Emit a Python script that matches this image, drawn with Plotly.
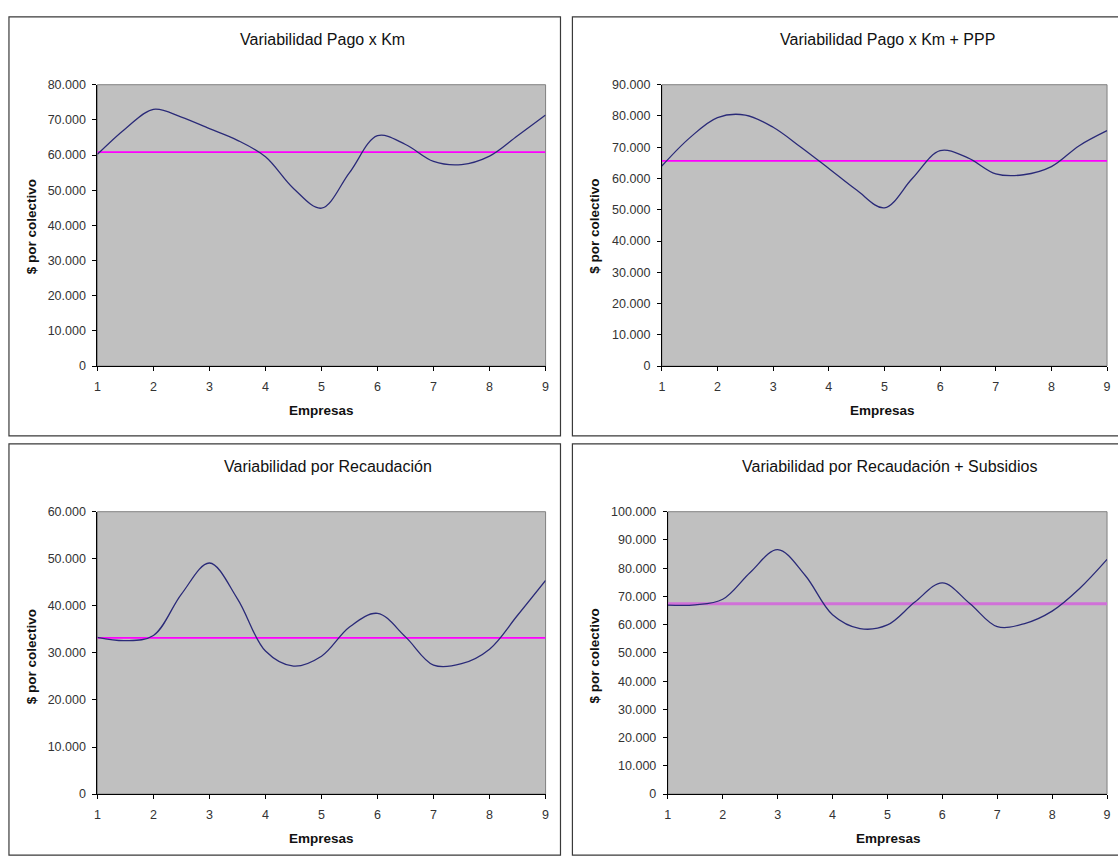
import plotly.graph_objects as go

W, H = 1118, 867

# ---------------- data ----------------
x_vals = [1, 1.5, 2, 2.5, 3, 3.5, 4, 4.5, 5, 5.5, 6, 6.5, 7, 7.5, 8, 8.5, 9]
x_ticks = [1, 2, 3, 4, 5, 6, 7, 8, 9]

pago_km = [60200, 67500, 73000, 70800, 67500, 64200, 59500, 50500, 44900,
           55000, 65500, 63000, 58200, 57300, 59700, 65500, 71400]
pago_km_mean = 60850

pago_km_ppp = [64000, 73000, 79500, 80300, 76400, 70000, 63200, 56300, 50600,
               60000, 68900, 66600, 61500, 61200, 63800, 70500, 75300]
pago_km_ppp_mean = 65650

recaudacion = [33300, 32600, 33700, 42500, 49100, 41500, 30400, 27200, 29300,
               35500, 38400, 33400, 27400, 27700, 30800, 38000, 45400]
recaudacion_mean = 33200

recaud_subs = [66900, 67000, 69000, 78500, 86600, 77500, 63500, 58600, 59900,
               68000, 74800, 67500, 59300, 60400, 64800, 72800, 83100]
recaud_subs_mean = 67400

titles = ["Variabilidad Pago x Km", "Variabilidad Pago x Km + PPP",
          "Variabilidad por Recaudación", "Variabilidad por Recaudación + Subsidios"]
y_max = [80000, 90000, 60000, 100000]
y_step = [10000, 10000, 10000, 10000]
series = [pago_km, pago_km_ppp, recaudacion, recaud_subs]
means = [pago_km_mean, pago_km_ppp_mean, recaudacion_mean, recaud_subs_mean]
x_title = "Empresas"
y_title = "$ por colectivo"

# ---------------- layout geometry (pixels) ----------------
# plot areas: (left, right, top, bottom)
plot_px = [(95, 546, 79, 365), (663, 1111, 79, 365),
           (95, 546, 513, 800), (669, 1111, 513, 800)]
# panel frames: (left, right, top, bottom)
frame_px = [(6, 561, 10, 436), (573, 1125, 10, 436),
            (6, 561, 444, 862), (573, 1125, 444, 862)]
title_pos = [(322, 33), (890, 33), (327, 467), (892, 467)]
xtitle_pos = [(321, 410), (885, 410), (321, 845), (891, 845)]
ytitle_pos = [(29, 223), (595, 223), (29, 660), (595, 660)]

FONT = "Liberation Sans, Arial, sans-serif"
curve_color = "#2A2A78"
mean_colors = ["#FF00FF", "#FF00FF", "#FF00FF", "#D070D8"]
mean_widths = [1.6, 1.6, 1.6, 3]

def px_x(v):
    return v / W

def px_y(v):
    return 1 - v / H

fig = go.Figure()
annotations = []
shapes = []

for i in range(4):
    ax = "" if i == 0 else str(i + 1)
    xa, ya = "x" + ax, "y" + ax
    l, r, t, b = plot_px[i]
    ymax = y_max[i]
    fig.add_trace(go.Scatter(
        x=[x_vals[0], x_vals[-1]], y=[means[i], means[i]], mode="lines",
        line=dict(color=mean_colors[i], width=mean_widths[i]),
        xaxis=xa, yaxis=ya, showlegend=False, hoverinfo="skip"))
    fig.add_trace(go.Scatter(
        x=x_vals, y=series[i], mode="lines",
        line=dict(color=curve_color, width=1.3, shape="spline", smoothing=1.0),
        xaxis=xa, yaxis=ya, showlegend=False))

    tickvals_y = list(range(0, ymax + 1, y_step[i]))
    fig.layout["xaxis" + ax] = dict(
        domain=[px_x(l), px_x(r)], range=[1, 9], anchor=ya,
        tickvals=x_ticks, ticktext=[str(v) for v in x_ticks],
        showgrid=False, zeroline=False, showline=True, linecolor="black",
        linewidth=1, ticks="outside", ticklen=4, tickcolor="black",
        ticklabelstandoff=5,
        tickfont=dict(family=FONT, size=12.5, color="#333333"), fixedrange=True)
    fig.layout["yaxis" + ax] = dict(
        domain=[px_y(b), px_y(t)], range=[0, ymax], anchor=xa,
        tickvals=tickvals_y, tickformat=",d",
        showgrid=False, zeroline=False, showline=True, linecolor="black",
        linewidth=1, ticks="outside", ticklen=4, tickcolor="black",
        ticklabelstandoff=4,
        tickfont=dict(family=FONT, size=12.5, color="#333333"), fixedrange=True)

    # plot-area frame (grey top/right)
    shapes.append(dict(type="rect", xref=xa + " domain", yref=ya + " domain",
                       x0=0, x1=1, y0=0, y1=1,
                       line=dict(color="#808080", width=1), layer="below"))
    # panel frame
    fl, fr, ft, fb = frame_px[i]
    shapes.append(dict(type="rect", xref="paper", yref="paper",
                       x0=px_x(fl), x1=px_x(fr), y0=px_y(fb), y1=px_y(ft),
                       line=dict(color="#3a3a3a", width=1.2)))

    tx, ty = title_pos[i]
    annotations.append(dict(text=titles[i], x=px_x(tx), y=px_y(ty),
                            xref="paper", yref="paper", showarrow=False,
                            xanchor="center", yanchor="middle",
                            font=dict(family=FONT, size=16, color="#111111")))
    ex, ey = xtitle_pos[i]
    annotations.append(dict(text="<b>" + x_title + "</b>", x=px_x(ex), y=px_y(ey),
                            xref="paper", yref="paper", showarrow=False,
                            xanchor="center", yanchor="middle",
                            font=dict(family=FONT, size=13.5, color="#111111")))
    vx, vy = ytitle_pos[i]
    annotations.append(dict(text="<b>" + y_title + "</b>", x=px_x(vx), y=px_y(vy),
                            xref="paper", yref="paper", showarrow=False,
                            textangle=-90, xanchor="center", yanchor="middle",
                            font=dict(family=FONT, size=13.5, color="#111111")))

fig.update_layout(
    width=W, height=H, margin=dict(l=0, r=0, t=0, b=0),
    paper_bgcolor="white", plot_bgcolor="#C0C0C0",
    separators=",.", annotations=annotations, shapes=shapes,
    showlegend=False)

fig.write_html("out.html", config={"displayModeBar": False})
